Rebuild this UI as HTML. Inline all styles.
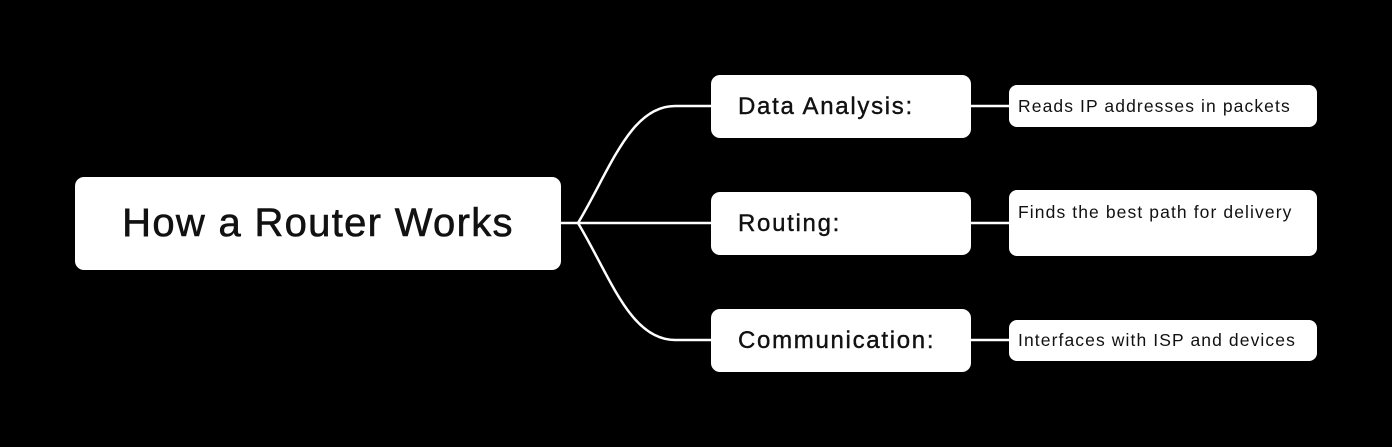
<!DOCTYPE html>
<html><head><style>
body{margin:0;width:1392px;height:447px;background:#000;position:relative;overflow:hidden;font-family:"Liberation Sans",sans-serif;color:#111}
.b{position:absolute;background:#fff;border-radius:9px;box-sizing:border-box;white-space:nowrap}
.r{left:75px;top:177px;width:486px;height:93px;font-size:40px;display:flex;align-items:center;justify-content:center;letter-spacing:1.3px;-webkit-text-stroke:0.6px #111}
.m{left:711px;width:260px;height:63px;font-size:24px;padding-left:27px;display:flex;align-items:center;letter-spacing:1.7px;-webkit-text-stroke:0.4px #111}
.l{left:1009px;width:308px;font-size:17.5px;padding-left:9px;border-radius:8px;letter-spacing:1.1px}
</style></head><body>
<svg width="1392" height="447" style="position:absolute;left:0;top:0">
<g stroke="#fff" stroke-width="2.5" fill="none">
<path d="M560 223 H578"/>
<path d="M578 223 C610 170 630 106 675 106 H711"/>
<path d="M578 223 H711"/>
<path d="M578 223 C610 276 630 340 675 340 H711"/>
<path d="M970 106 H1009"/><path d="M970 223 H1009"/><path d="M970 340 H1009"/>
</g></svg>
<div class="b r">How a Router Works</div>
<div class="b m" style="top:75px">Data Analysis:</div>
<div class="b m" style="top:192px">Routing:</div>
<div class="b m" style="top:309px">Communication:</div>
<div class="b l" style="top:85px;height:42px;line-height:42px">Reads IP addresses in packets</div>
<div class="b l" style="top:190px;height:66px;padding-top:12px;line-height:20px">Finds the best path for delivery</div>
<div class="b l" style="top:320px;height:41px;line-height:41px">Interfaces with ISP and devices</div>
</body></html>
